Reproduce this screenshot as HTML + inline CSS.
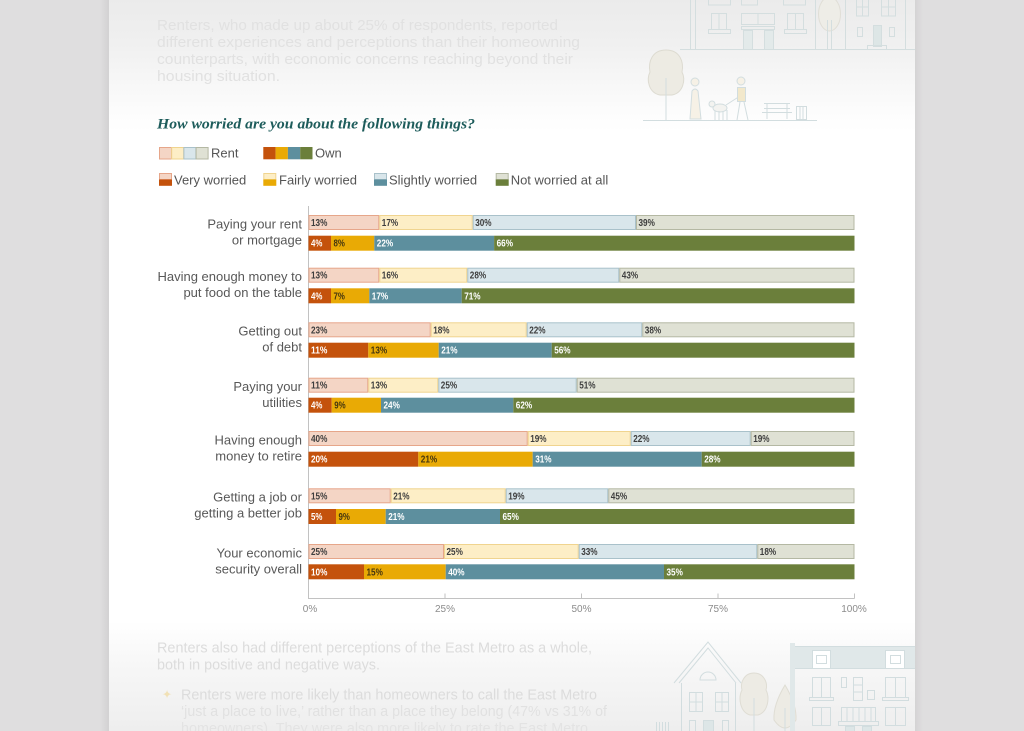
<!DOCTYPE html>
<html><head><meta charset="utf-8"><style>
html,body{margin:0;padding:0;background:#dfdedf;}
svg{display:block;}
.rl{font-family:"Liberation Sans",sans-serif;font-size:13px;fill:#585858;text-anchor:end;}
.lg{font-family:"Liberation Sans",sans-serif;font-size:13px;fill:#555;}
.v{font-family:"Liberation Sans Narrow","Liberation Sans",sans-serif;font-size:10px;font-weight:bold;}
.r{fill:#3e3e3e;}
.w{fill:#ffffff;}
.d{fill:#45360f;}
.ax{font-family:"Liberation Sans",sans-serif;font-size:10px;fill:#8c8c8c;text-anchor:middle;}
.ft{font-family:"Liberation Sans",sans-serif;font-size:14.5px;fill:#e1e1e1;}
.fb{font-family:"Liberation Sans",sans-serif;font-size:15px;fill:#dcdcdc;}
.RV{fill:#f4d5c5;stroke:#e6a68a;stroke-width:1;}
.RF{fill:#fdeec6;stroke:#f0d48f;stroke-width:1;}
.RS{fill:#d9e6eb;stroke:#a9c1ca;stroke-width:1;}
.RN{fill:#dfe1d4;stroke:#b4b8a3;stroke-width:1;}
.OV{fill:#c4520c;}
.OF{fill:#e9aa05;}
.OS{fill:#5d8f9e;}
.ON{fill:#6b7f3b;}
.il{fill:none;stroke:#d4dedf;stroke-width:1;}
.il2{fill:none;stroke:#d2dddf;stroke-width:1;}
</style></head><body>
<svg width="1024" height="731" viewBox="0 0 1024 731" xmlns="http://www.w3.org/2000/svg">
<defs>
<linearGradient id="pg" x1="0" y1="0" x2="0" y2="1">
<stop offset="0" stop-color="#ebebeb"/>
<stop offset="0.06" stop-color="#f0f0f0"/>
<stop offset="0.15" stop-color="#fcfcfc"/>
<stop offset="0.18" stop-color="#ffffff"/>
<stop offset="0.85" stop-color="#ffffff"/>
<stop offset="0.9" stop-color="#f8f8f8"/>
<stop offset="1" stop-color="#eeeeee"/>
</linearGradient>
<linearGradient id="shL" x1="0" y1="0" x2="1" y2="0">
<stop offset="0" stop-color="#dfdedf"/>
<stop offset="1" stop-color="#d2d1d2"/>
</linearGradient>
<linearGradient id="shR" x1="0" y1="0" x2="1" y2="0">
<stop offset="0" stop-color="#d4d3d4"/>
<stop offset="1" stop-color="#dfdedf"/>
</linearGradient>
</defs>
<rect width="1024" height="731" fill="#dfdedf"/>
<rect x="100" y="0" width="9" height="731" fill="url(#shL)"/>
<rect x="915" y="0" width="8" height="731" fill="url(#shR)"/>
<rect x="109" y="0" width="806" height="731" fill="url(#pg)"/>

<!-- top faded text -->
<text class="ft" x="157" y="30" textLength="401" lengthAdjust="spacingAndGlyphs">Renters, who made up about 25% of respondents, reported</text>
<text class="ft" x="157" y="47" textLength="423" lengthAdjust="spacingAndGlyphs">different experiences and perceptions than their homeowning</text>
<text class="ft" x="157" y="64" textLength="416" lengthAdjust="spacingAndGlyphs">counterparts, with economic concerns reaching beyond their</text>
<text class="ft" x="157" y="81" textLength="123" lengthAdjust="spacingAndGlyphs">housing situation.</text>

<!-- top-right illustration -->
<g class="il">
<path d="M680 49.5H915"/>
<path d="M690.5 0V49M695.5 0V49M815.5 0V49"/>
<rect x="708.5" y="-2" width="22" height="7"/>
<rect x="741.5" y="-2" width="16" height="7"/>
<rect x="783.5" y="-2" width="22" height="7"/>
<rect x="711.5" y="13.5" width="15" height="16"/><path d="M719 13.5V29.5"/>
<rect x="708.5" y="29.5" width="22" height="4"/>
<rect x="741.5" y="13.5" width="33" height="11"/><path d="M758 13.5V24.5"/>
<rect x="741.5" y="26.5" width="33" height="3"/>
<rect x="743.5" y="30.5" width="9" height="19" fill="#e3eaea"/>
<rect x="764.5" y="30.5" width="9" height="19" fill="#e3eaea"/>
<rect x="787.5" y="13.5" width="16" height="16"/><path d="M795.5 13.5V29.5"/>
<rect x="784.5" y="29.5" width="22" height="4"/>
<path d="M845.5 0V49M905.5 0V49"/>
<rect x="856.5" y="-1" width="12" height="17"/><path d="M862.5 -1V16M856.5 7H868.5"/>
<rect x="881.5" y="-1" width="14" height="17"/><path d="M888.5 -1V16M881.5 7H895.5"/>
<rect x="857.5" y="27.5" width="5" height="9"/>
<rect x="889.5" y="27.5" width="5" height="9"/>
<rect x="873.5" y="25.5" width="8" height="21" fill="#dde6e6"/>
<rect x="867.5" y="45.5" width="19" height="4"/>
</g>
<ellipse cx="829.5" cy="14" rx="11" ry="17" fill="#eeede7" stroke="#e0ded6"/>
<path d="M827.5 20V49M831.5 20V49" stroke="#d4dedf" fill="none"/>

<g class="il2">
<path d="M643 120.5H817"/>
</g>
<path d="M666 50 C680 50 684 62 682 72 C686 80 683 93 672 95 L660 95 C649 93 646 80 650 72 C648 62 652 50 666 50Z" fill="#edebe3" stroke="#dddbd1"/>
<path d="M666 78V120" stroke="#d2dddf" fill="none"/>
<circle cx="695" cy="82" r="4" fill="#f6f1e6" stroke="#d2dddf"/>
<path d="M690 119 L692 91 Q695 87 698 91 L701 119 Z" fill="#f6f1e6" stroke="#d2dddf"/>
<ellipse cx="720" cy="108" rx="7" ry="4" fill="#f3f3f0" stroke="#d2dddf"/>
<circle cx="712" cy="104" r="3" fill="#f3f3f0" stroke="#d2dddf"/>
<path d="M715 111V120M719 111V120M723 111V120M727 110V120M726 105L740 96" stroke="#d2dddf" fill="none"/>
<circle cx="741" cy="81" r="4" fill="#f6f1e6" stroke="#d2dddf"/>
<rect x="737.5" y="87.5" width="8" height="14" fill="#f2e8cb" stroke="#d2dddf"/>
<path d="M740 102L737 120M744 102L748 120" stroke="#d2dddf" fill="none"/>
<path d="M764 103.5H790M764 108.5H790M762 112.5H792M767 103V119M787 103V119" stroke="#d2dddf" fill="none"/>
<rect x="796.5" y="106.5" width="10" height="13" fill="none" stroke="#d2dddf"/>
<path d="M800 107V119M803 107V119" stroke="#d2dddf" fill="none"/>

<!-- title -->
<text x="157" y="128.5" font-family="'Liberation Serif',serif" font-weight="bold" font-style="italic" font-size="15" fill="#1d5c5b" textLength="318" lengthAdjust="spacingAndGlyphs">How worried are you about the following things?</text>

<!-- legend row 1 -->
<rect x="159.5" y="147.5" width="12" height="11.5" class="RV"/>
<rect x="171.7" y="147.5" width="12" height="11.5" class="RF"/>
<rect x="183.9" y="147.5" width="12" height="11.5" class="RS"/>
<rect x="196.1" y="147.5" width="12" height="11.5" class="RN"/>
<text class="lg" x="211" y="157.5">Rent</text>
<rect x="263.3" y="147" width="12.3" height="12.3" class="OV"/>
<rect x="275.6" y="147" width="12.3" height="12.3" class="OF"/>
<rect x="287.9" y="147" width="12.3" height="12.3" class="OS"/>
<rect x="300.2" y="147" width="12.3" height="12.3" class="ON"/>
<text class="lg" x="315" y="157.5">Own</text>

<!-- legend row 2 -->
<rect x="159.5" y="173.5" width="12" height="6" class="RV"/><rect x="159" y="179.5" width="13" height="6.3" class="OV"/>
<text class="lg" x="174" y="184.3">Very worried</text>
<rect x="263.8" y="173.5" width="12" height="6" class="RF"/><rect x="263.3" y="179.5" width="13" height="6.3" class="OF"/>
<text class="lg" x="279" y="184.3">Fairly worried</text>
<rect x="374.5" y="173.5" width="12" height="6" class="RS"/><rect x="374" y="179.5" width="13" height="6.3" class="OS"/>
<text class="lg" x="389" y="184.3">Slightly worried</text>
<rect x="496.2" y="173.5" width="12" height="6" class="RN"/><rect x="495.7" y="179.5" width="13" height="6.3" class="ON"/>
<text class="lg" x="510.7" y="184.3">Not worried at all</text>

<!-- axes -->
<path d="M308.5 206V598.5H854.5M445 593.5V598.5M581.5 593.5V598.5M718 593.5V598.5M854.5 593.5V598.5" stroke="#c2c2c2" fill="none"/>
<text class="ax" x="310" y="612">0%</text>
<text class="ax" x="445" y="612">25%</text>
<text class="ax" x="581.5" y="612">50%</text>
<text class="ax" x="718" y="612">75%</text>
<text class="ax" x="854" y="612">100%</text>

<!-- row labels -->
<text class="rl" x="302" y="228.5">Paying your rent</text>
<text class="rl" x="302" y="244.5">or mortgage</text>
<text class="rl" x="302" y="281">Having enough money to</text>
<text class="rl" x="302" y="297">put food on the table</text>
<text class="rl" x="302" y="335.7">Getting out</text>
<text class="rl" x="302" y="351.7">of debt</text>
<text class="rl" x="302" y="391">Paying your</text>
<text class="rl" x="302" y="407">utilities</text>
<text class="rl" x="302" y="444.3">Having enough</text>
<text class="rl" x="302" y="460.3">money to retire</text>
<text class="rl" x="302" y="501.7">Getting a job or</text>
<text class="rl" x="302" y="517.7">getting a better job</text>
<text class="rl" x="302" y="557.3">Your economic</text>
<text class="rl" x="302" y="573.3">security overall</text>

<!-- Row 1 -->
<rect x="309" y="215.5" width="69.8" height="14" class="RV"/>
<rect x="379.8" y="215.5" width="92.4" height="14" class="RF"/>
<rect x="473.2" y="215.5" width="162.3" height="14" class="RS"/>
<rect x="636.5" y="215.5" width="217.5" height="14" class="RN"/>
<rect x="308.5" y="235.7" width="22.5" height="15" class="OV"/>
<rect x="331" y="235.7" width="43.3" height="15" class="OF"/>
<rect x="374.3" y="235.7" width="119.8" height="15" class="OS"/>
<rect x="494.1" y="235.7" width="360.4" height="15" class="ON"/>
<text class="v r" x="311" y="226" textLength="16.4" lengthAdjust="spacingAndGlyphs">13%</text>
<text class="v r" x="381.8" y="226" textLength="16.4" lengthAdjust="spacingAndGlyphs">17%</text>
<text class="v r" x="475.2" y="226" textLength="16.4" lengthAdjust="spacingAndGlyphs">30%</text>
<text class="v r" x="638.5" y="226" textLength="16.4" lengthAdjust="spacingAndGlyphs">39%</text>
<text class="v w" x="311" y="246.7" textLength="11.4" lengthAdjust="spacingAndGlyphs">4%</text>
<text class="v d" x="333.5" y="246.7" textLength="11.4" lengthAdjust="spacingAndGlyphs">8%</text>
<text class="v w" x="376.8" y="246.7" textLength="16.4" lengthAdjust="spacingAndGlyphs">22%</text>
<text class="v w" x="496.6" y="246.7" textLength="16.4" lengthAdjust="spacingAndGlyphs">66%</text>

<!-- Row 2 -->
<rect x="309" y="268.2" width="69.8" height="14" class="RV"/>
<rect x="379.8" y="268.2" width="87" height="14" class="RF"/>
<rect x="467.8" y="268.2" width="151" height="14" class="RS"/>
<rect x="619.8" y="268.2" width="234.2" height="14" class="RN"/>
<rect x="308.5" y="288.3" width="22.5" height="15" class="OV"/>
<rect x="331" y="288.3" width="38.3" height="15" class="OF"/>
<rect x="369.3" y="288.3" width="92.4" height="15" class="OS"/>
<rect x="461.7" y="288.3" width="392.8" height="15" class="ON"/>
<text class="v r" x="311" y="278.7" textLength="16.4" lengthAdjust="spacingAndGlyphs">13%</text>
<text class="v r" x="381.8" y="278.7" textLength="16.4" lengthAdjust="spacingAndGlyphs">16%</text>
<text class="v r" x="469.8" y="278.7" textLength="16.4" lengthAdjust="spacingAndGlyphs">28%</text>
<text class="v r" x="621.8" y="278.7" textLength="16.4" lengthAdjust="spacingAndGlyphs">43%</text>
<text class="v w" x="311" y="299.3" textLength="11.4" lengthAdjust="spacingAndGlyphs">4%</text>
<text class="v d" x="333.5" y="299.3" textLength="11.4" lengthAdjust="spacingAndGlyphs">7%</text>
<text class="v w" x="371.8" y="299.3" textLength="16.4" lengthAdjust="spacingAndGlyphs">17%</text>
<text class="v w" x="464.2" y="299.3" textLength="16.4" lengthAdjust="spacingAndGlyphs">71%</text>

<!-- Row 3 -->
<rect x="309" y="322.8" width="121.2" height="14" class="RV"/>
<rect x="431.2" y="322.8" width="95" height="14" class="RF"/>
<rect x="527.2" y="322.8" width="114.6" height="14" class="RS"/>
<rect x="642.8" y="322.8" width="211.2" height="14" class="RN"/>
<rect x="308.5" y="342.7" width="59.8" height="15" class="OV"/>
<rect x="368.3" y="342.7" width="70.4" height="15" class="OF"/>
<rect x="438.7" y="342.7" width="113" height="15" class="OS"/>
<rect x="551.7" y="342.7" width="302.8" height="15" class="ON"/>
<text class="v r" x="311" y="333.3" textLength="16.4" lengthAdjust="spacingAndGlyphs">23%</text>
<text class="v r" x="433.2" y="333.3" textLength="16.4" lengthAdjust="spacingAndGlyphs">18%</text>
<text class="v r" x="529.2" y="333.3" textLength="16.4" lengthAdjust="spacingAndGlyphs">22%</text>
<text class="v r" x="644.8" y="333.3" textLength="16.4" lengthAdjust="spacingAndGlyphs">38%</text>
<text class="v w" x="311" y="353.7" textLength="16.4" lengthAdjust="spacingAndGlyphs">11%</text>
<text class="v d" x="370.8" y="353.7" textLength="16.4" lengthAdjust="spacingAndGlyphs">13%</text>
<text class="v w" x="441.2" y="353.7" textLength="16.4" lengthAdjust="spacingAndGlyphs">21%</text>
<text class="v w" x="554.2" y="353.7" textLength="16.4" lengthAdjust="spacingAndGlyphs">56%</text>

<!-- Row 4 -->
<rect x="309" y="378.2" width="58.8" height="14" class="RV"/>
<rect x="368.8" y="378.2" width="69" height="14" class="RF"/>
<rect x="438.8" y="378.2" width="137.4" height="14" class="RS"/>
<rect x="577.2" y="378.2" width="276.8" height="14" class="RN"/>
<rect x="308.5" y="397.7" width="23.2" height="15" class="OV"/>
<rect x="331.7" y="397.7" width="49.3" height="15" class="OF"/>
<rect x="381" y="397.7" width="132.3" height="15" class="OS"/>
<rect x="513.3" y="397.7" width="341.2" height="15" class="ON"/>
<text class="v r" x="311" y="388.7" textLength="16.4" lengthAdjust="spacingAndGlyphs">11%</text>
<text class="v r" x="370.8" y="388.7" textLength="16.4" lengthAdjust="spacingAndGlyphs">13%</text>
<text class="v r" x="440.8" y="388.7" textLength="16.4" lengthAdjust="spacingAndGlyphs">25%</text>
<text class="v r" x="579.2" y="388.7" textLength="16.4" lengthAdjust="spacingAndGlyphs">51%</text>
<text class="v w" x="311" y="408.7" textLength="11.4" lengthAdjust="spacingAndGlyphs">4%</text>
<text class="v d" x="334.2" y="408.7" textLength="11.4" lengthAdjust="spacingAndGlyphs">9%</text>
<text class="v w" x="383.5" y="408.7" textLength="16.4" lengthAdjust="spacingAndGlyphs">24%</text>
<text class="v w" x="515.8" y="408.7" textLength="16.4" lengthAdjust="spacingAndGlyphs">62%</text>

<!-- Row 5 -->
<rect x="309" y="431.5" width="218.2" height="14" class="RV"/>
<rect x="528.2" y="431.5" width="102" height="14" class="RF"/>
<rect x="631.2" y="431.5" width="119" height="14" class="RS"/>
<rect x="751.2" y="431.5" width="102.8" height="14" class="RN"/>
<rect x="308.5" y="451.7" width="109.8" height="15" class="OV"/>
<rect x="418.3" y="451.7" width="114.4" height="15" class="OF"/>
<rect x="532.7" y="451.7" width="169" height="15" class="OS"/>
<rect x="701.7" y="451.7" width="152.8" height="15" class="ON"/>
<text class="v r" x="311" y="442" textLength="16.4" lengthAdjust="spacingAndGlyphs">40%</text>
<text class="v r" x="530.2" y="442" textLength="16.4" lengthAdjust="spacingAndGlyphs">19%</text>
<text class="v r" x="633.2" y="442" textLength="16.4" lengthAdjust="spacingAndGlyphs">22%</text>
<text class="v r" x="753.2" y="442" textLength="16.4" lengthAdjust="spacingAndGlyphs">19%</text>
<text class="v w" x="311" y="462.7" textLength="16.4" lengthAdjust="spacingAndGlyphs">20%</text>
<text class="v d" x="420.8" y="462.7" textLength="16.4" lengthAdjust="spacingAndGlyphs">21%</text>
<text class="v w" x="535.2" y="462.7" textLength="16.4" lengthAdjust="spacingAndGlyphs">31%</text>
<text class="v w" x="704.2" y="462.7" textLength="16.4" lengthAdjust="spacingAndGlyphs">28%</text>

<!-- Row 6 -->
<rect x="309" y="488.8" width="81.2" height="14" class="RV"/>
<rect x="391.2" y="488.8" width="114" height="14" class="RF"/>
<rect x="506.2" y="488.8" width="101.6" height="14" class="RS"/>
<rect x="608.8" y="488.8" width="245.2" height="14" class="RN"/>
<rect x="308.5" y="509" width="27.5" height="15" class="OV"/>
<rect x="336" y="509" width="49.7" height="15" class="OF"/>
<rect x="385.7" y="509" width="114.3" height="15" class="OS"/>
<rect x="500" y="509" width="354.5" height="15" class="ON"/>
<text class="v r" x="311" y="499.3" textLength="16.4" lengthAdjust="spacingAndGlyphs">15%</text>
<text class="v r" x="393.2" y="499.3" textLength="16.4" lengthAdjust="spacingAndGlyphs">21%</text>
<text class="v r" x="508.2" y="499.3" textLength="16.4" lengthAdjust="spacingAndGlyphs">19%</text>
<text class="v r" x="610.8" y="499.3" textLength="16.4" lengthAdjust="spacingAndGlyphs">45%</text>
<text class="v w" x="311" y="520" textLength="11.4" lengthAdjust="spacingAndGlyphs">5%</text>
<text class="v d" x="338.5" y="520" textLength="11.4" lengthAdjust="spacingAndGlyphs">9%</text>
<text class="v w" x="388.2" y="520" textLength="16.4" lengthAdjust="spacingAndGlyphs">21%</text>
<text class="v w" x="502.5" y="520" textLength="16.4" lengthAdjust="spacingAndGlyphs">65%</text>

<!-- Row 7 -->
<rect x="309" y="544.5" width="134.5" height="14" class="RV"/>
<rect x="444.5" y="544.5" width="133.7" height="14" class="RF"/>
<rect x="579.2" y="544.5" width="177.6" height="14" class="RS"/>
<rect x="757.8" y="544.5" width="96.2" height="14" class="RN"/>
<rect x="308.5" y="564.3" width="55.5" height="15" class="OV"/>
<rect x="364" y="564.3" width="81.7" height="15" class="OF"/>
<rect x="445.7" y="564.3" width="218.3" height="15" class="OS"/>
<rect x="664" y="564.3" width="190.5" height="15" class="ON"/>
<text class="v r" x="311" y="555" textLength="16.4" lengthAdjust="spacingAndGlyphs">25%</text>
<text class="v r" x="446.5" y="555" textLength="16.4" lengthAdjust="spacingAndGlyphs">25%</text>
<text class="v r" x="581.2" y="555" textLength="16.4" lengthAdjust="spacingAndGlyphs">33%</text>
<text class="v r" x="759.8" y="555" textLength="16.4" lengthAdjust="spacingAndGlyphs">18%</text>
<text class="v w" x="311" y="575.3" textLength="16.4" lengthAdjust="spacingAndGlyphs">10%</text>
<text class="v d" x="366.5" y="575.3" textLength="16.4" lengthAdjust="spacingAndGlyphs">15%</text>
<text class="v w" x="448.2" y="575.3" textLength="16.4" lengthAdjust="spacingAndGlyphs">40%</text>
<text class="v w" x="666.5" y="575.3" textLength="16.4" lengthAdjust="spacingAndGlyphs">35%</text>

<!-- bottom faded text -->
<text class="fb" x="157" y="652.7" textLength="435" lengthAdjust="spacingAndGlyphs">Renters also had different perceptions of the East Metro as a whole,</text>
<text class="fb" x="157" y="669.7" textLength="223" lengthAdjust="spacingAndGlyphs">both in positive and negative ways.</text>
<text x="162" y="698.5" font-family="'DejaVu Sans',sans-serif" font-size="12" fill="#f1e1b6">✦</text>
<text class="fb" x="181" y="699.3" textLength="416" lengthAdjust="spacingAndGlyphs" fill="#dedede">Renters were more likely than homeowners to call the East Metro</text>
<text class="fb" x="181" y="716" textLength="426" lengthAdjust="spacingAndGlyphs" style="fill:#e1e1e1">‘just a place to live,’ rather than a place they belong (47% vs 31% of</text>
<text class="fb" x="181" y="733" textLength="407" lengthAdjust="spacingAndGlyphs" style="fill:#e3e3e3">homeowners). They were also more likely to rate the East Metro</text>

<!-- bottom-right illustration -->
<g class="il2">
<path d="M674 683 L708 642 L741 683 M679 683 L708 648 L736 683"/>
<path d="M681.5 683V731M735.5 683V731"/>
<path d="M700 680 A8 8 0 0 1 716 680 Z"/>
<rect x="689.5" y="692.5" width="13" height="19"/><path d="M696 692.5V711.5M689.5 702H702.5"/>
<rect x="715.5" y="692.5" width="13" height="19"/><path d="M722 692.5V711.5M715.5 702H728.5"/>
<rect x="689.5" y="720.5" width="6" height="11"/>
<rect x="703.5" y="720.5" width="10" height="11" fill="#dde6e7"/>
<rect x="722.5" y="720.5" width="6" height="11"/>
<path d="M656.5 722V731M659.5 722V731M662.5 722V731M665.5 722V731M668.5 722V731"/>
</g>
<path d="M754 673 C764 673 768 683 766 690 C770 698 768 712 758 715 L750 715 C740 712 738 698 742 690 C740 683 744 673 754 673Z" fill="#edebe4" stroke="#dfddd4"/>
<path d="M754 698V731" stroke="#d2dddf" fill="none"/>
<path d="M785 685 Q797 705 796 720 Q785 736 774 720 Q773 705 785 685Z" fill="#edebe4" stroke="#dfddd4"/>
<path d="M785 708V731" stroke="#d2dddf" fill="none"/>
<rect x="790" y="643" width="5" height="88" fill="#e0e8e9"/>
<rect x="795" y="646" width="120" height="22" fill="#e0e8e9"/>
<path d="M795 646.5H915M795 668.5H915" stroke="#d2dddf" fill="none"/>
<g class="il2">
<rect x="812.5" y="650.5" width="18" height="18" fill="#ffffff"/><rect x="816.5" y="655.5" width="10" height="8"/>
<rect x="885.5" y="650.5" width="19" height="18" fill="#ffffff"/><rect x="890.5" y="655.5" width="10" height="8"/>
<rect x="812.5" y="677.5" width="18" height="20"/><path d="M821.5 677.5V697.5"/>
<rect x="809.5" y="697.5" width="24" height="3"/>
<rect x="841.5" y="677.5" width="5" height="10"/>
<rect x="853.5" y="677.5" width="9" height="23"/><path d="M853.5 685H862.5M853.5 692H862.5"/>
<rect x="867.5" y="690.5" width="7" height="9"/>
<rect x="885.5" y="677.5" width="20" height="20"/><path d="M895.5 677.5V697.5"/>
<rect x="882.5" y="697.5" width="26" height="3"/>
<rect x="812.5" y="707.5" width="18" height="18"/><path d="M821.5 707.5V725.5"/>
<rect x="841.5" y="707.5" width="34" height="14"/><path d="M847 707.5V721.5M853 707.5V721.5M859 707.5V721.5M865 707.5V721.5M871 707.5V721.5"/>
<rect x="838.5" y="721.5" width="40" height="4"/>
<rect x="885.5" y="707.5" width="20" height="18"/><path d="M895.5 707.5V725.5"/>
<rect x="845.5" y="726.5" width="9" height="6" fill="#dde6e7"/>
<rect x="862.5" y="726.5" width="9" height="6" fill="#dde6e7"/>
</g>
</svg>
</body></html>
